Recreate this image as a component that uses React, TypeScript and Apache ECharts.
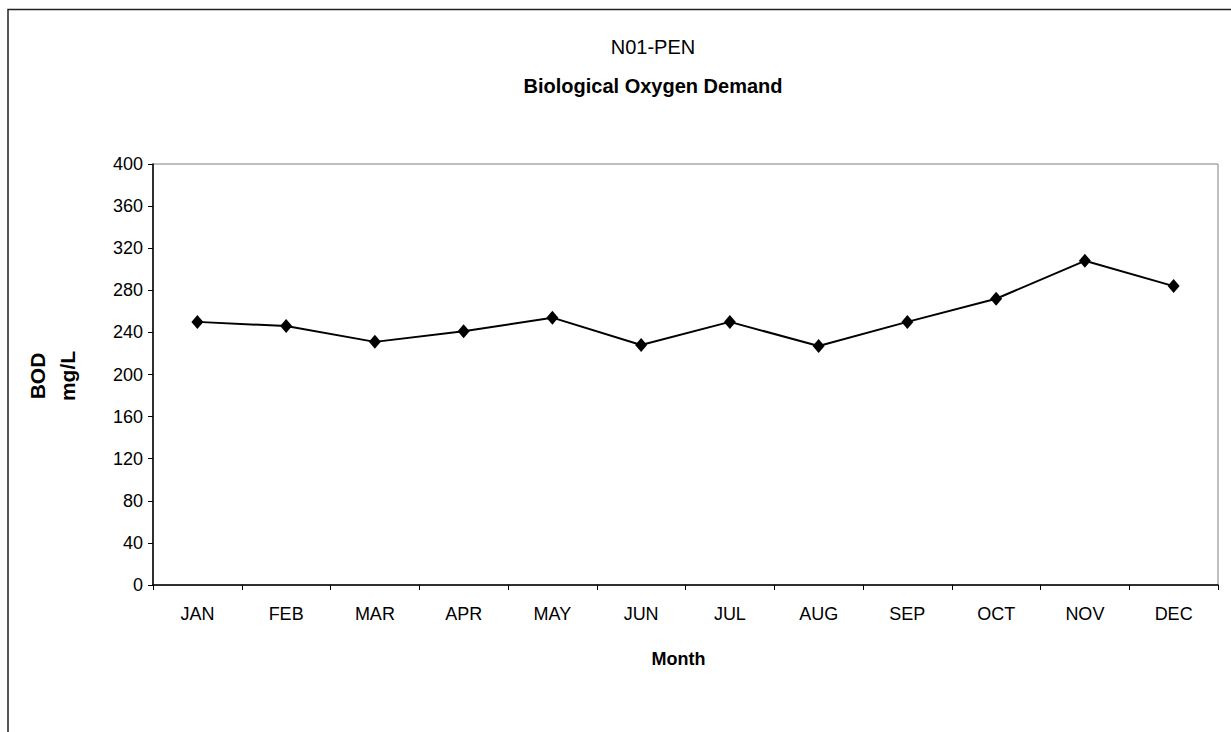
import React, { useEffect, useRef } from "react";
import * as echarts from "echarts";

const months = ["JAN", "FEB", "MAR", "APR", "MAY", "JUN", "JUL", "AUG", "SEP", "OCT", "NOV", "DEC"];
const bodValues = [250, 246, 231, 241, 254, 228, 250, 227, 250, 272, 308, 284];
const titleMain = "N01-PEN";
const titleSub = "Biological Oxygen Demand";
const yName = "BOD\nmg/L";
const xName = "Month";

const FONT = "Arial, 'Liberation Sans', sans-serif";

export default function App() {
  const ref = useRef<HTMLDivElement>(null);
  useEffect(() => {
    if (!ref.current) return;
    const chart = echarts.init(ref.current, undefined, { renderer: "svg" });
    chart.setOption({
      animation: false,
      backgroundColor: "#ffffff",
      title: {
        text: titleMain,
        subtext: titleSub,
        left: 648,
        top: 32,
        textAlign: "center",
        itemGap: 19,
        textStyle: { fontFamily: FONT, fontSize: 20, fontWeight: "normal", color: "#000" },
        subtextStyle: { fontFamily: FONT, fontSize: 20, fontWeight: "bold", color: "#000" },
      },
      graphic: [
        {
          type: "rect",
          shape: { x: 8, y: 9.5, width: 2000, height: 2000 },
          style: { fill: "none", stroke: "#222", lineWidth: 1.5 },
          silent: true,
        },
        {
          type: "text",
          x: 52,
          y: 376,
          rotation: Math.PI / 2,
          style: {
            text: yName,
            fontFamily: FONT,
            fontSize: 21,
            fontWeight: "bold",
            fill: "#000",
            align: "center",
            verticalAlign: "middle",
            lineHeight: 30,
          },
        },
      ],
      grid: {
        left: 153,
        top: 164,
        right: 13,
        bottom: 147,
        show: true,
        borderColor: "#808080",
        borderWidth: 1,
        backgroundColor: "#fff",
      },
      xAxis: {
        type: "category",
        data: months,
        boundaryGap: true,
        name: xName,
        nameLocation: "middle",
        nameGap: 65,
        nameTextStyle: {
          fontFamily: FONT,
          fontSize: 18,
          fontWeight: "bold",
          color: "#000",
          padding: [0, 14, 0, 0],
        },
        axisLine: { lineStyle: { color: "#000", width: 1.5 } },
        axisTick: { show: true, length: 5, interval: 0, lineStyle: { color: "#000" } },
        axisLabel: { fontFamily: FONT, fontSize: 18, color: "#000", margin: 20, interval: 0 },
        splitLine: { show: false },
      },
      yAxis: {
        type: "value",
        min: 0,
        max: 400,
        interval: 40,
        axisLine: { show: true, lineStyle: { color: "#000", width: 1.5 } },
        axisTick: { show: true, length: 5, lineStyle: { color: "#000" } },
        axisLabel: { fontFamily: FONT, fontSize: 18, color: "#000", margin: 10 },
        splitLine: { show: false },
      },
      series: [
        {
          type: "line",
          data: bodValues,
          symbol: "diamond",
          symbolSize: [12, 14],
          lineStyle: { color: "#000", width: 2 },
          itemStyle: { color: "#000" },
        },
      ],
    });
    return () => chart.dispose();
  }, []);
  return (
    <div
      ref={ref}
      style={{ position: "fixed", left: 0, top: 0, width: 1231, height: 732, background: "#fff" }}
    />
  );
}
